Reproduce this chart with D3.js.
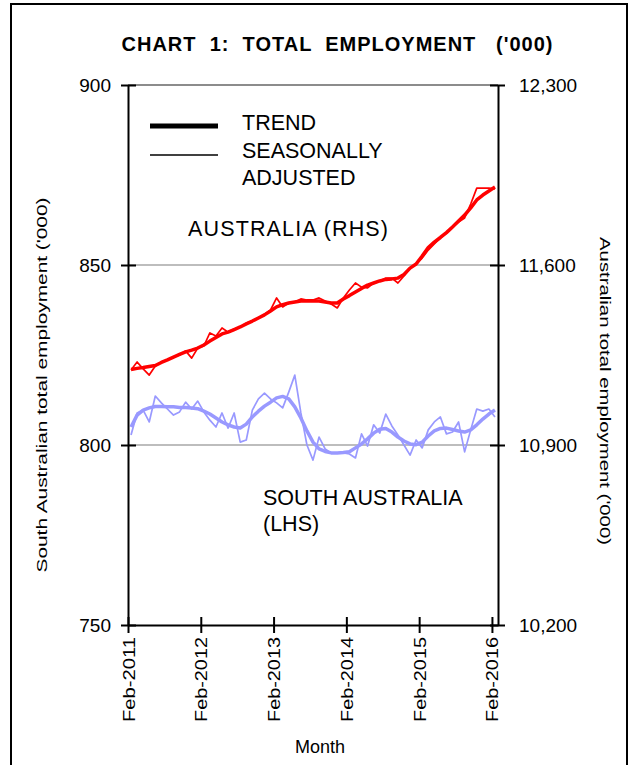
<!DOCTYPE html>
<html>
<head>
<meta charset="utf-8">
<script src="https://cdn.jsdelivr.net/npm/d3@7"></script>
<style>
  body { margin: 0; background: #fff; }
  svg { font-family: "Liberation Sans", Arial, sans-serif; }
</style>
</head>
<body>
<div id="chart"></div>
<script>
// Months Feb-2011 .. Feb-2016 (61 categories)
const months = d3.timeMonths(new Date(2011, 1, 1), new Date(2016, 2, 1));
const xTickIndex = [0, 12, 24, 36, 48, 60];
const xTickLabels = ["Feb-2011", "Feb-2012", "Feb-2013", "Feb-2014", "Feb-2015", "Feb-2016"];
const leftTicks = [750, 800, 850, 900];
const rightTicks = [10200, 10900, 11600, 12300];

// Australia ('000), right axis
const ausTrend = [11194, 11198, 11201, 11205, 11209, 11221, 11231, 11242, 11252, 11262,
    11269, 11277, 11289, 11304, 11318, 11332, 11339, 11349, 11359, 11371,
    11382, 11394, 11406, 11421, 11437, 11446, 11452, 11456, 11460, 11460,
    11460, 11460, 11456, 11452, 11452, 11468, 11481, 11495, 11509, 11522,
    11530, 11538, 11544, 11546, 11549, 11563, 11588, 11604, 11635, 11668,
    11689, 11707, 11726, 11748, 11771, 11794, 11822, 11853, 11872, 11888, 11903];
const ausSA = [11192, 11223, 11196, 11172, 11207, 11223, 11231, 11242, 11250, 11266,
    11238, 11277, 11285, 11336, 11324, 11355, 11339, 11351, 11359, 11374,
    11382, 11394, 11409, 11425, 11472, 11437, 11452, 11456, 11468, 11464,
    11464, 11472, 11460, 11448, 11433, 11472, 11503, 11530, 11514, 11511,
    11530, 11538, 11549, 11549, 11530, 11557, 11588, 11604, 11627, 11658,
    11682, 11705, 11724, 11748, 11767, 11783, 11837, 11899, 11899, 11899, 11896];

// South Australia ('000), left axis
const saTrend = [805.0, 808.3, 809.7, 810.3, 810.7, 810.7, 810.6, 810.6, 810.4, 810.4,
    810.3, 810.1, 809.4, 808.6, 807.5, 806.4, 805.6, 805.0, 804.7, 805.8,
    807.8, 809.4, 810.8, 811.9, 813.1, 813.5, 812.8, 810.6, 807.5, 803.9,
    800.8, 798.9, 798.2, 797.8, 797.8, 797.9, 798.1, 799.2, 800.3, 801.7,
    803.3, 804.4, 804.6, 803.6, 802.2, 801.1, 800.3, 800.1, 800.8, 802.5,
    803.9, 804.6, 804.7, 804.3, 803.9, 803.6, 804.2, 805.6, 807.2, 808.6, 809.7];
const saSA = [802.8, 808.9, 809.7, 806.4, 813.6, 811.7, 810.0, 808.3, 809.2, 811.9,
    810.0, 812.2, 809.2, 806.9, 805.0, 808.9, 804.7, 808.9, 800.8, 801.4,
    809.7, 812.8, 814.4, 812.8, 811.7, 810.3, 814.7, 819.4, 808.9, 800.0,
    795.8, 802.2, 798.9, 797.8, 797.8, 797.8, 797.5, 796.4, 803.1, 799.7,
    805.6, 803.3, 808.6, 805.3, 802.8, 800.0, 797.2, 801.4, 799.2, 804.2,
    806.4, 807.8, 803.1, 803.6, 806.4, 798.1, 804.2, 810.0, 809.4, 810.0, 807.8];

const width = 630, height = 765;
const plot = { left: 128, right: 498, top: 85, bottom: 625 };
const red = "#ff0000", blue = "#9999ff";

const svg = d3.select("#chart").append("svg")
    .attr("width", width)
    .attr("height", height);

// outer frame
svg.append("rect")
    .attr("x", 11).attr("y", 4)
    .attr("width", 616).attr("height", 800)
    .attr("fill", "#fff")
    .attr("stroke", "#000")
    .attr("stroke-width", 2);

const x = d3.scaleLinear().domain([0, months.length]).range([plot.left, plot.right]);
const xPos = i => x(i + 0.5);
const yLeft = d3.scaleLinear().domain([750, 900]).range([plot.bottom, plot.top]);
const yRight = d3.scaleLinear().domain([10200, 12300]).range([plot.bottom, plot.top]);

// gridlines
svg.selectAll(".grid")
    .data(leftTicks.slice(1))
    .enter().append("line")
    .attr("class", "grid")
    .attr("x1", plot.left).attr("x2", plot.right)
    .attr("y1", d => yLeft(d)).attr("y2", d => yLeft(d))
    .attr("stroke", d => d === 900 ? "#8c8c8c" : "#bdbdbd")
    .attr("stroke-width", 2);

// series
const lineLeft = d3.line().x((d, i) => xPos(i)).y(d => yLeft(d));
const lineRight = d3.line().x((d, i) => xPos(i)).y(d => yRight(d));

function drawSeries(data, gen, color, w) {
    svg.append("path")
        .datum(data)
        .attr("fill", "none")
        .attr("stroke", color)
        .attr("stroke-width", w)
        .attr("stroke-linejoin", "round")
        .attr("d", gen);
}
drawSeries(saTrend, lineLeft, blue, 3.5);
drawSeries(saSA, lineLeft, blue, 1.7);
drawSeries(ausTrend, lineRight, red, 3.5);
drawSeries(ausSA, lineRight, red, 1.7);

// axes
const leftAxis = svg.append("g")
    .attr("transform", `translate(${plot.left},0)`)
    .call(d3.axisLeft(yLeft).tickValues(leftTicks).tickSize(7).tickSizeOuter(0).tickPadding(10));
leftAxis.selectAll(".tick line").attr("x1", 8);

const rightAxis = svg.append("g")
    .attr("transform", `translate(${plot.right},0)`)
    .call(d3.axisRight(yRight).tickValues(rightTicks).tickFormat(d3.format(","))
        .tickSize(7).tickSizeOuter(0).tickPadding(14));
rightAxis.selectAll(".tick line").attr("x1", -8);

const bottomAxis = svg.append("g")
    .attr("transform", `translate(0,${plot.bottom})`)
    .call(d3.axisBottom(x).tickValues(xTickIndex).tickFormat((d, i) => xTickLabels[i])
        .tickSize(8).tickSizeOuter(0));
bottomAxis.selectAll(".tick line").attr("y1", -8);
bottomAxis.selectAll(".tick text")
    .attr("transform", "rotate(-90)")
    .attr("text-anchor", "end")
    .attr("x", -12).attr("y", 6).attr("dy", 0)
    .attr("font-size", 16.5)
    .attr("textLength", 85)
    .attr("lengthAdjust", "spacingAndGlyphs");

[leftAxis, rightAxis, bottomAxis].forEach(g => {
    g.select(".domain").attr("stroke", "#000").attr("stroke-width", 2);
    g.selectAll(".tick line").attr("stroke", "#000").attr("stroke-width", 2);
    g.selectAll(".tick text").attr("fill", "#000").style("font-family", "'Liberation Sans', Arial, sans-serif");
});
leftAxis.selectAll(".tick text").attr("font-size", 19);
rightAxis.selectAll(".tick text").attr("font-size", 19);

// title (wide word gaps as in the original)
svg.append("text")
    .attr("x", 337).attr("y", 51)
    .attr("text-anchor", "middle")
    .attr("font-size", 20)
    .attr("font-weight", "bold")
    .style("white-space", "pre")
    .attr("textLength", 431)
    .attr("lengthAdjust", "spacing")
    .text("CHART  1:  TOTAL  EMPLOYMENT   ('000)");

// axis titles
svg.append("text")
    .attr("transform", "translate(47,385) rotate(-90)")
    .attr("text-anchor", "middle")
    .attr("font-size", 15.5)
    .attr("textLength", 375)
    .attr("lengthAdjust", "spacingAndGlyphs")
    .text("South Australian total employment ('000)");

svg.append("text")
    .attr("transform", "translate(600,391) rotate(90)")
    .attr("text-anchor", "middle")
    .attr("font-size", 15.5)
    .attr("textLength", 308)
    .attr("lengthAdjust", "spacingAndGlyphs")
    .text("Australian total employment ('000)");

svg.append("text")
    .attr("x", 320).attr("y", 753)
    .attr("text-anchor", "middle")
    .attr("font-size", 18)
    .text("Month");

// legend
const legend = [
    { w: 5, y: 126 },
    { w: 1.5, y: 155 }
];
legend.forEach(d => {
    svg.append("line")
        .attr("x1", 150).attr("x2", 218)
        .attr("y1", d.y).attr("y2", d.y)
        .attr("stroke", "#000")
        .attr("stroke-width", d.w);
});
[["TREND", 130], ["SEASONALLY", 158], ["ADJUSTED", 185]].forEach(([t, yy]) => {
    svg.append("text")
        .attr("x", 242).attr("y", yy)
        .attr("font-size", 21.5)
        .text(t);
});

// series labels
svg.append("text")
    .attr("x", 188).attr("y", 236)
    .attr("font-size", 21.5)
    .attr("textLength", 200)
    .attr("lengthAdjust", "spacing")
    .text("AUSTRALIA (RHS)");
svg.append("text")
    .attr("x", 263).attr("y", 505)
    .attr("font-size", 21.5)
    .text("SOUTH AUSTRALIA");
svg.append("text")
    .attr("x", 263).attr("y", 531)
    .attr("font-size", 21.5)
    .text("(LHS)");
</script>
</body>
</html>
